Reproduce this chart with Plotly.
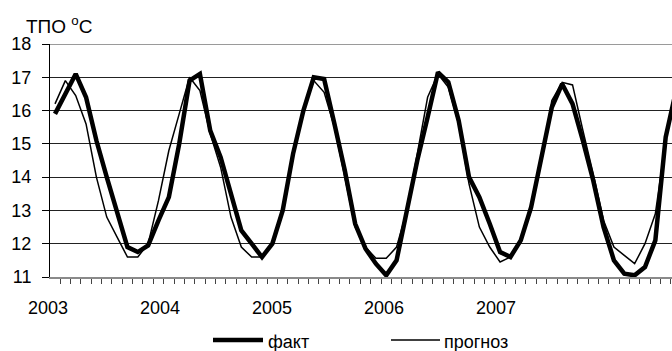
import plotly.graph_objects as go

# monthly values, Jan 2003 onward (last value continues past the visible edge)
fact = [15.9, 16.5, 17.1, 16.4, 15.1, 14.0, 12.9, 11.9, 11.75, 11.95, 12.7, 13.4,
        15.0, 16.9, 17.1, 15.4, 14.6, 13.5, 12.4, 12.0, 11.6, 12.0, 13.0, 14.7,
        16.0, 17.0, 16.95, 15.6, 14.2, 12.6, 11.85, 11.4, 11.05, 11.5, 13.0, 14.5,
        15.8, 17.15, 16.85, 15.7, 14.0, 13.4, 12.6, 11.75, 11.6, 12.1, 13.1, 14.6,
        16.1, 16.8, 16.2, 15.1, 13.9, 12.5, 11.5, 11.1, 11.05, 11.3, 12.1, 15.2, 16.6]
forecast = [16.2, 16.9, 16.45, 15.6, 14.0, 12.8, 12.2, 11.6, 11.6, 12.0, 13.3, 14.8,
            15.9, 17.0, 16.6, 15.3, 14.3, 12.8, 11.9, 11.6, 11.6, 12.0, 13.0, 14.8,
            16.0, 16.9, 16.55, 15.5, 14.0, 12.5, 11.9, 11.56, 11.56, 11.9, 13.0, 14.7,
            16.4, 17.1, 16.7, 15.6, 13.8, 12.5, 11.9, 11.45, 11.6, 12.1, 13.0, 14.5,
            16.3, 16.85, 16.77, 15.4, 14.1, 12.7, 11.9, 11.65, 11.4, 12.0, 12.9, 15.1, 16.7]
month_index = list(range(len(fact)))

year_labels = ["2003", "2004", "2005", "2006", "2007"]
year_label_pos = [-0.68, 10.14, 20.97, 31.79, 42.61]   # in month-index units
y_ticks = [11, 12, 13, 14, 15, 16, 17, 18]

FONT = "Liberation Sans, Arial, sans-serif"
W, H = 672, 351
X_DOMAIN = [50 / W, 1.0]
X_RANGE = [-0.483, 59.61]

fig = go.Figure()
fig.add_trace(go.Scatter(x=month_index, y=fact, mode="lines", name="факт",
                         line=dict(color="black", width=4.5), showlegend=False))
fig.add_trace(go.Scatter(x=month_index, y=forecast, mode="lines", name="прогноз",
                         line=dict(color="black", width=1.5), showlegend=False))

fig.update_layout(
    template="none",
    width=W, height=H,
    margin=dict(l=0, r=0, t=0, b=0, pad=0, autoexpand=False),
    showlegend=False,
    paper_bgcolor="white", plot_bgcolor="white",
    font=dict(family=FONT, size=18, color="black"),
    xaxis=dict(domain=X_DOMAIN, range=X_RANGE, automargin=False,
               tickmode="linear", tick0=-0.5, dtick=1,
               ticks="outside", ticklen=5, tickwidth=1, tickcolor="#444",
               showticklabels=False, showgrid=False, zeroline=False,
               showline=True, linecolor="#8a8a8a", linewidth=2),
    yaxis=dict(domain=[74 / H, 307 / H], range=[11, 18], automargin=False,
               tickmode="array", tickvals=y_ticks,
               ticks="outside", ticklen=7, tickwidth=1, tickcolor="black",
               ticklabelstandoff=7,
               tickfont=dict(size=18, family=FONT),
               showgrid=True, gridcolor="#222", gridwidth=1,
               zeroline=False, showline=True, linecolor="black", linewidth=1),
)

# top border of plot area (gray)
fig.add_shape(type="line", xref="paper", yref="y", x0=X_DOMAIN[0], x1=1, y0=18, y1=18,
              line=dict(color="#9a9a9a", width=2))

# year labels (placed through the x-axis scale, converted to paper units)
def to_paper(v):
    return X_DOMAIN[0] + (v - X_RANGE[0]) / (X_RANGE[1] - X_RANGE[0]) * (X_DOMAIN[1] - X_DOMAIN[0])

for lab, pos in zip(year_labels, year_label_pos):
    fig.add_annotation(x=to_paper(pos), xref="paper", y=1 - 308 / H, yref="paper", text=lab,
                       showarrow=False, xanchor="center", yanchor="middle",
                       font=dict(size=18, family=FONT))

# axis title
fig.add_annotation(x=24 / W, xref="paper", y=1 - 25 / H, yref="paper",
                   text="ТПО <sup>o</sup>C", showarrow=False,
                   xanchor="left", yanchor="middle", font=dict(size=19, family=FONT))

# legend
fig.add_shape(type="line", xref="paper", yref="paper", x0=213 / W, x1=263 / W,
              y0=1 - 340 / H, y1=1 - 340 / H, line=dict(color="black", width=4.5))
fig.add_annotation(x=266 / W, xref="paper", y=1 - 342 / H, yref="paper", text="факт",
                   showarrow=False, xanchor="left", yanchor="middle",
                   font=dict(size=18, family=FONT))
fig.add_shape(type="line", xref="paper", yref="paper", x0=391 / W, x1=440 / W,
              y0=1 - 340 / H, y1=1 - 340 / H, line=dict(color="black", width=1.5))
fig.add_annotation(x=442 / W, xref="paper", y=1 - 342 / H, yref="paper", text="прогноз",
                   showarrow=False, xanchor="left", yanchor="middle",
                   font=dict(size=18, family=FONT))

fig.write_html("out.html",
               config={"displayModeBar": False},
               post_script="document.body.style.margin='0';document.body.style.overflow='hidden';")
